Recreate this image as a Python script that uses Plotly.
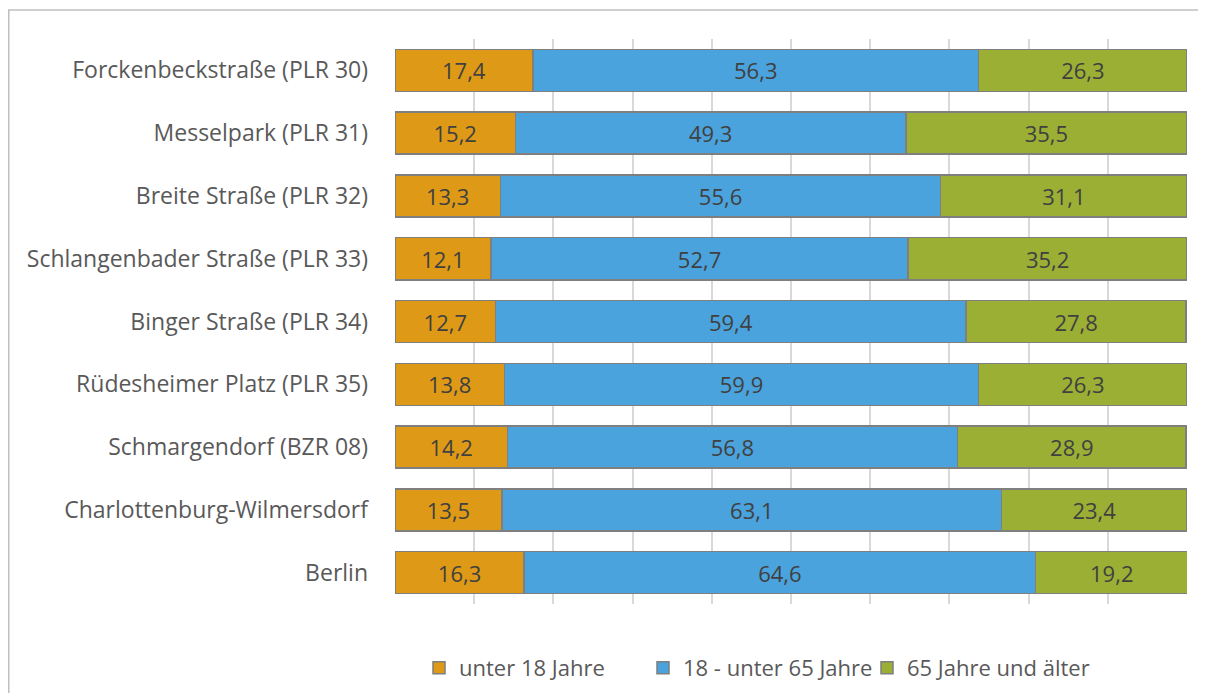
import plotly.graph_objects as go

categories = [
    "Forckenbeckstraße (PLR 30)",
    "Messelpark (PLR 31)",
    "Breite Straße (PLR 32)",
    "Schlangenbader Straße (PLR 33)",
    "Binger Straße (PLR 34)",
    "Rüdesheimer Platz (PLR 35)",
    "Schmargendorf (BZR 08)",
    "Charlottenburg-Wilmersdorf",
    "Berlin",
]
unter18 = [17.4, 15.2, 13.3, 12.1, 12.7, 13.8, 14.2, 13.5, 16.3]
von18bis65 = [56.3, 49.3, 55.6, 52.7, 59.4, 59.9, 56.8, 63.1, 64.6]
ab65 = [26.3, 35.5, 31.1, 35.2, 27.8, 26.3, 28.9, 23.4, 19.2]

series = [
    ("unter 18 Jahre", unter18, "#DE9A17"),
    ("18 - unter 65 Jahre", von18bis65, "#4AA3DC"),
    ("65 Jahre und älter", ab65, "#9BAF35"),
]

FONT = "Open Sans, sans-serif"

fig = go.Figure()
for name, vals, color in series:
    fig.add_trace(go.Bar(
        y=categories, x=vals, name=name, orientation="h",
        marker=dict(color=color, line=dict(color="#7F7F7F", width=1.5)),
        text=[f"{v:.1f}".replace(".", ",") for v in vals],
        textposition="inside", insidetextanchor="middle",
        textfont=dict(family=FONT, size=22, color="#404040"),
        hoverinfo="skip",
    ))

# figure sits inside the page body with an 8px margin
W, H = 1198, 685
L, R, T, B = 387, 19, 31, 89
pw, ph = W - L - R, H - T - B

def px_to_paper_x(px):
    return (px - L) / pw

def px_to_paper_y(py):
    return (H - B - py) / ph

fig.update_layout(
    barmode="stack",
    bargap=0.33,
    width=W, height=H,
    margin=dict(l=L, r=R, t=T, b=B, pad=0, autoexpand=False),
    paper_bgcolor="white", plot_bgcolor="white",
    font=dict(family=FONT, size=22, color="#595959"),
    xaxis=dict(range=[0, 100], showticklabels=False, showgrid=True,
               gridcolor="#D9D9D9", gridwidth=1.5, dtick=10, zeroline=False,
               showline=False, fixedrange=True),
    yaxis=dict(categoryorder="array", categoryarray=categories[::-1],
               showgrid=False, showline=False, zeroline=False,
               ticks="", ticklabelstandoff=26, automargin=False,
               tickfont=dict(family=FONT, size=23, color="#595959")),
    legend=dict(orientation="h", x=px_to_paper_x(411), xanchor="left",
                y=px_to_paper_y(660), yanchor="middle",
                font=dict(family=FONT, size=22, color="#595959"),
                entrywidth=179, entrywidthmode="pixels",
                itemwidth=30, traceorder="normal"),
    showlegend=True,
    shapes=[
        dict(type="line", xref="paper", yref="paper",
             x0=px_to_paper_x(0), x1=px_to_paper_x(W + 5),
             y0=px_to_paper_y(2), y1=px_to_paper_y(2),
             line=dict(color="#BFBFBF", width=1.5)),
        dict(type="line", xref="paper", yref="paper",
             x0=px_to_paper_x(0.5), x1=px_to_paper_x(0.5),
             y0=px_to_paper_y(2), y1=px_to_paper_y(H + 5),
             line=dict(color="#BFBFBF", width=2)),
    ],
)

fig.write_html("out.html")
